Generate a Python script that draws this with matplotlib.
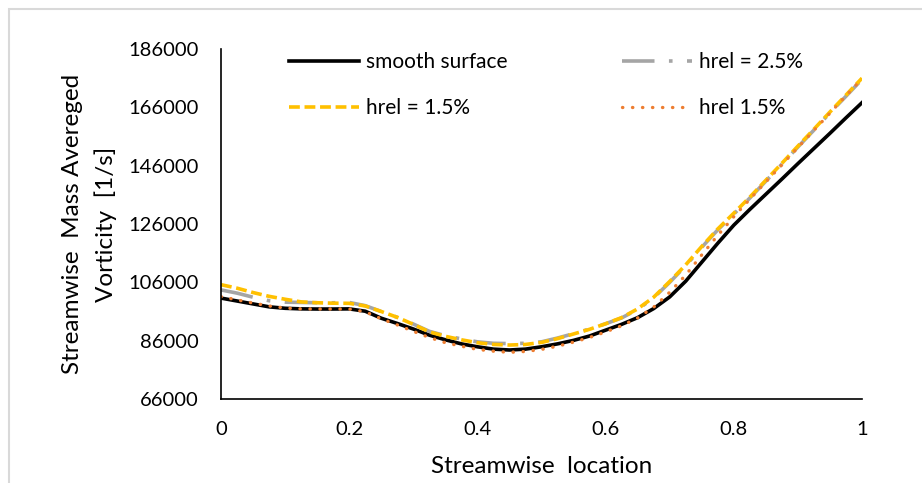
import matplotlib
matplotlib.use("Agg")
import matplotlib.pyplot as plt
from matplotlib.patches import Rectangle

plt.rcParams['font.family'] = ['Lato', 'DejaVu Sans']

x = [0, 0.025, 0.05, 0.075, 0.1, 0.125, 0.15, 0.175, 0.2, 0.225,
     0.25, 0.275, 0.3, 0.325, 0.35, 0.375, 0.4, 0.425, 0.45, 0.475,
     0.5, 0.525, 0.55, 0.575, 0.6, 0.625, 0.65, 0.675, 0.7, 0.725,
     0.75, 0.775, 0.8, 0.825, 0.85, 0.875, 0.9, 0.925, 0.95, 0.975, 1.0]
smooth = [100600, 99600, 98600, 97600, 97100, 96900, 96850, 96850, 96900, 96100,
          93700, 91900, 90000, 87900, 86300, 84900, 83900, 83100, 82800, 83100,
          83900, 84900, 86100, 87600, 89600, 91600, 93900, 97000, 101000, 106400,
          112900, 119400, 125600, 131000, 136200, 141400, 146700, 151900, 157100, 162400, 167600]
hrel25 = [103400, 102300, 100900, 99700, 99200, 99100, 99000, 99000, 99100, 98000,
          96000, 94000, 91700, 89200, 87700, 86600, 85600, 85100, 85000, 85100,
          85600, 86900, 88400, 90000, 91800, 93800, 96700, 100700, 106000, 111700,
          118000, 124000, 129400, 134900, 140700, 146500, 152400, 158200, 164100, 169800, 175600]
hrel15 = [105200, 104000, 102500, 101200, 100200, 99300, 99000, 98850, 98800, 97900,
          96000, 94000, 91600, 89000, 87500, 86300, 85300, 84700, 84500, 84700,
          85400, 86700, 88300, 89900, 91800, 93900, 96900, 100900, 106300, 112000,
          118300, 124300, 129700, 135200, 141000, 146800, 152700, 158500, 164400, 170200, 176000]
hrel15b = [101100, 100000, 98900, 97900, 97200, 96900, 96850, 96850, 96850, 95900,
           93500, 91400, 89200, 87100, 85300, 84100, 83000, 82400, 82000, 82300,
           83000, 84100, 85500, 87100, 89000, 91100, 93800, 97500, 102600, 108500,
           115400, 122100, 128500, 134500, 140400, 146300, 152200, 158100, 164000, 170000, 175800]

yticks = [66000, 86000, 106000, 126000, 146000, 166000, 186000]
xticks = [0, 0.2, 0.4, 0.6, 0.8, 1]
xticklabels = ['0', '0.2', '0.4', '0.6', '0.8', '1']

fig = plt.figure(figsize=(9.22, 4.83), dpi=100)
ax = fig.add_axes([221/922, 1 - 399/483, (862-221)/922, (399-49)/483])

l1, = ax.plot(x, smooth, color='black', lw=2.6, label='smooth surface')
l2, = ax.plot(x, hrel25, color='#A5A5A5', lw=2.6, ls=(0, (9, 4, 1, 4)), label='hrel = 2.5%')
l3, = ax.plot(x, hrel15, color='#FFC000', lw=2.6, ls=(0, (3.0, 1.3)), label='hrel = 1.5%')
l4, = ax.plot(x, hrel15b, color='#ED7D31', lw=2.4, ls=(0, (0.1, 2.9)),
              dash_capstyle='round', label='hrel 1.5%')

ax.set_xlim(0, 1)
ax.set_ylim(66000, 186000)
ax.set_xticks(xticks)
ax.set_xticklabels(xticklabels)
ax.set_yticks(yticks)
ax.tick_params(length=0, labelsize=14.5, pad=16)
for s in ['top', 'right']:
    ax.spines[s].set_visible(False)
for s in ['left', 'bottom']:
    ax.spines[s].set_linewidth(1.2)

ax.set_xlabel('Streamwise  location', fontsize=17.5, labelpad=12.5)
ax.set_ylabel('Streamwise  Mass Avereged\nVorticity  [1/s]', fontsize=17.5, labelpad=8.5,
              linespacing=1.6)

ax.legend([l1, l3, l2, l4], [l1.get_label(), l3.get_label(), l2.get_label(), l4.get_label()],
          ncol=2, frameon=False, fontsize=15, handlelength=3.35, handletextpad=0.35,
          columnspacing=5.5, labelspacing=1.25, loc='upper left',
          bbox_to_anchor=(0.077, 1.045))

fig.add_artist(Rectangle((9/922, -0.1), 1.2, (483-9)/483 + 0.1, transform=fig.transFigure,
                         fill=False, edgecolor='#D9D9D9', lw=1.5, clip_on=False))

fig.savefig('out.png', dpi=100)
